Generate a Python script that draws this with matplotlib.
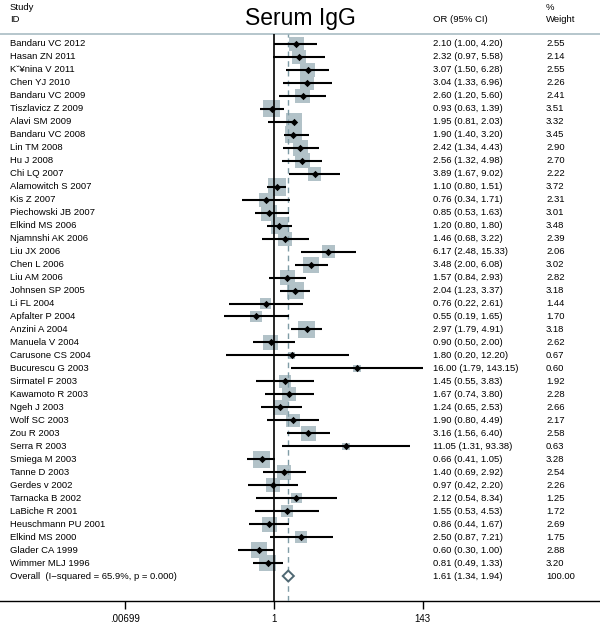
import matplotlib.pyplot as plt
import matplotlib.patches as mpatches
import numpy as np

plt.rcParams['font.family'] = ['Liberation Sans', 'DejaVu Sans']

studies = [
    "Bandaru VC 2012", "Hasan ZN 2011", "K\u02c7\u00a5nina V 2011", "Chen YJ 2010",
    "Bandaru VC 2009", "Tiszlavicz Z 2009", "Alavi SM 2009", "Bandaru VC 2008",
    "Lin TM 2008", "Hu J 2008", "Chi LQ 2007", "Alamowitch S 2007", "Kis Z 2007",
    "Piechowski JB 2007", "Elkind MS 2006", "Njamnshi AK 2006", "Liu JX 2006",
    "Chen L 2006", "Liu AM 2006", "Johnsen SP 2005", "Li FL 2004", "Apfalter P 2004",
    "Anzini A 2004", "Manuela V 2004", "Carusone CS 2004", "Bucurescu G 2003",
    "Sirmatel F 2003", "Kawamoto R 2003", "Ngeh J 2003", "Wolf SC 2003", "Zou R 2003",
    "Serra R 2003", "Smiega M 2003", "Tanne D 2003", "Gerdes v 2002", "Tarnacka B 2002",
    "LaBiche R 2001", "Heuschmann PU 2001", "Elkind MS 2000", "Glader CA 1999",
    "Wimmer MLJ 1996",
]
odds = [2.10, 2.32, 3.07, 3.04, 2.60, 0.93, 1.95, 1.90, 2.42, 2.56, 3.89, 1.10, 0.76,
        0.85, 1.20, 1.46, 6.17, 3.48, 1.57, 2.04, 0.76, 0.55, 2.97, 0.90, 1.80, 16.00,
        1.45, 1.67, 1.24, 1.90, 3.16, 11.05, 0.66, 1.40, 0.97, 2.12, 1.55, 0.86, 2.50,
        0.60, 0.81]
lower = [1.00, 0.97, 1.50, 1.33, 1.20, 0.63, 0.81, 1.40, 1.34, 1.32, 1.67, 0.80, 0.34,
         0.53, 0.80, 0.68, 2.48, 2.00, 0.84, 1.23, 0.22, 0.19, 1.79, 0.50, 0.20, 1.79,
         0.55, 0.74, 0.65, 0.80, 1.56, 1.31, 0.41, 0.69, 0.42, 0.54, 0.53, 0.44, 0.87,
         0.30, 0.49]
upper = [4.20, 5.58, 6.28, 6.96, 5.60, 1.39, 2.03, 3.20, 4.43, 4.98, 9.02, 1.51, 1.71,
         1.63, 1.80, 3.22, 15.33, 6.08, 2.93, 3.37, 2.61, 1.65, 4.91, 2.00, 12.20, 143.15,
         3.83, 3.80, 2.53, 4.49, 6.40, 93.38, 1.05, 2.92, 2.20, 8.34, 4.53, 1.67, 7.21,
         1.00, 1.33]
weights = [2.55, 2.14, 2.55, 2.26, 2.41, 3.51, 3.32, 3.45, 2.90, 2.70, 2.22, 3.72, 2.31,
           3.01, 3.48, 2.39, 2.06, 3.02, 2.82, 3.18, 1.44, 1.70, 3.18, 2.62, 0.67, 0.60,
           1.92, 2.28, 2.66, 2.17, 2.58, 0.63, 3.28, 2.54, 2.26, 1.25, 1.72, 2.69, 1.75,
           2.88, 3.20]
overall_label = "Overall  (I\u2212squared = 65.9%, p = 0.000)"
overall_or, overall_lo, overall_hi = 1.61, 1.34, 1.94
tick_values = [0.00699, 1, 143]
tick_labels = [".00699", "1", "143"]

W, H = 600, 625
row_px, first_px = 12.976, 44
top_px, bottom_px = 34, 601

fig = plt.figure(figsize=(W / 100, H / 100), dpi=100)
ax = fig.add_axes([0, (H - bottom_px) / H, 1, (bottom_px - top_px) / H])
ax.set_xscale('log')
ppd = 68.9  # pixels per decade
ax.set_xlim(10 ** (-274 / ppd), 10 ** ((W - 274) / ppd))
ax.set_ylim((bottom_px - first_px) / row_px, (top_px - first_px) / row_px)

for s in ['left', 'right']:
    ax.spines[s].set_visible(False)
ax.spines['top'].set_color('#a9bcc4')
ax.spines['top'].set_linewidth(1.2)
ax.spines['bottom'].set_linewidth(1.0)
ax.set_yticks([])
ax.set_xticks(tick_values)
ax.set_xticklabels(tick_labels)
ax.xaxis.set_minor_locator(plt.NullLocator())
ax.tick_params(axis='x', length=6, width=1.0, labelsize=7, pad=3)

ax.axvline(1, color='black', lw=1.2, zorder=3)
ax.axvline(overall_or, color='#7f9ca6', lw=1.0, ls=(0, (4, 3)), zorder=3)

n = len(studies)
rows = np.arange(n)
sides = 17.7 * np.sqrt(np.array(weights) / 3.72) * 0.72
ax.scatter(odds, rows, marker='s', s=sides ** 2, color='#b2c2c8', lw=0, zorder=2)
ax.hlines(rows, lower, upper, color='black', lw=1.5, zorder=4)
ax.scatter(odds, rows, marker='D', s=14, color='black', lw=0, zorder=5)

yo = n
diamond = mpatches.Polygon([(overall_lo, yo), (overall_or, yo - 0.42),
                            (overall_hi, yo), (overall_or, yo + 0.42)],
                           closed=True, facecolor='white', edgecolor='#4f6873', lw=1.4, zorder=5)
ax.add_patch(diamond)

tr = ax.get_yaxis_transform()
fs = 6.8
labels = studies + [overall_label]
ors = odds + [overall_or]
los = lower + [overall_lo]
his = upper + [overall_hi]
wts = [f"{w:.2f}" for w in weights] + ["100.00"]
for i in range(n + 1):
    ax.text(10 / W, i, labels[i], transform=tr, fontsize=fs, va='center', ha='left')
    ax.text(433 / W, i, f"{ors[i]:.2f} ({los[i]:.2f}, {his[i]:.2f})", transform=tr,
            fontsize=fs, va='center', ha='left')
    ax.text(546 / W, i, wts[i], transform=tr, fontsize=fs, va='center', ha='left')

fig.text(10 / W, 1 - 7 / H, "Study", fontsize=fs, va='center', ha='left')
fig.text(10 / W, 1 - 20 / H, "ID", fontsize=fs, va='center', ha='left')
fig.text(433 / W, 1 - 20 / H, "OR (95% CI)", fontsize=fs, va='center', ha='left')
fig.text(546 / W, 1 - 7 / H, "%", fontsize=fs, va='center', ha='left')
fig.text(546 / W, 1 - 20 / H, "Weight", fontsize=fs, va='center', ha='left')
fig.text(300 / W, 1 - 19 / H, "Serum IgG", fontsize=16.5, va='center', ha='center')

fig.savefig('out.png', dpi=100)
